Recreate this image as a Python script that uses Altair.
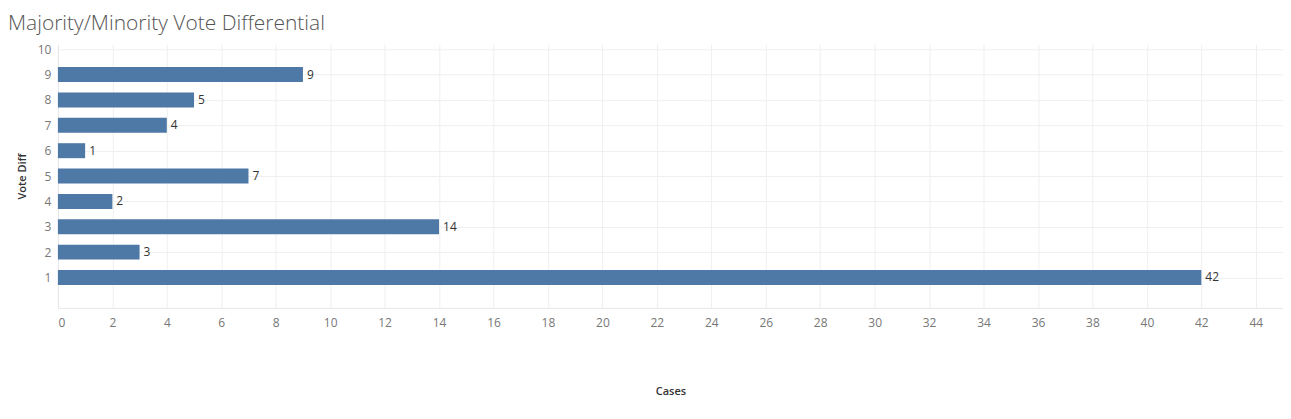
import altair as alt
import pandas as pd

vote_diff = [1, 2, 3, 4, 5, 6, 7, 8, 9]
cases = [42, 3, 14, 2, 7, 1, 4, 5, 9]
x_ticks = list(range(0, 46, 2))
y_ticks = list(range(1, 11))

df = pd.DataFrame({"Vote Diff": vote_diff, "Cases": cases})

FONT = "Open Sans"
GRID = "#efefef"

base = alt.Chart(df)

bars = base.mark_bar(orient="horizontal", size=15, color="#4e79a7").encode(
    x=alt.X(
        "Cases:Q",
        scale=alt.Scale(domain=[0, 45], nice=False),
        axis=alt.Axis(
            values=x_ticks,
            tickCount=30,
            format="d",
            title="Cases",
            labelPadding=10,
            labelFlush=True,
            titlePadding=57,
        ),
    ),
    y=alt.Y(
        "Vote Diff:Q",
        scale=alt.Scale(domain=[0, 10], nice=False),
        axis=alt.Axis(
            values=y_ticks,
            tickCount=20,
            format="d",
            title="Vote Diff",
            labelPadding=7,
            labelFlush=True,
            titlePadding=10,
        ),
    ),
)

labels = base.mark_text(
    align="left", baseline="middle", dx=4, fontSize=12, font=FONT, color="#333333"
).encode(
    x="Cases:Q",
    y="Vote Diff:Q",
    text="Cases:Q",
)

chart = (
    (bars + labels)
    .properties(
        width=1227,
        height=264,
        autosize=alt.AutoSizeParams(type="none"),
        padding={"left": 50, "top": 36, "right": 0, "bottom": 100},
        title=alt.TitleParams(
            "Majority/Minority Vote Differential",
            anchor="start",
            frame="group",
            font=FONT,
            fontSize=21,
            fontWeight=300,
            color="#555555",
            dx=-50,
            dy=22,
            offset=14,
            baseline="alphabetic",
        ),
    )
    .configure_view(stroke=None)
    .configure_axis(
        grid=True,
        gridColor=GRID,
        domainColor="#e6e6e6",
        ticks=False,
        labelOverlap=False,
        labelFontSize=12,
        labelColor="#777777",
        labelFont=FONT,
        titleFont=FONT,
        titleFontSize=11,
        titleFontWeight=600,
        titleColor="#333333",
    )
)

chart.save("out.html", embed_options={"renderer": "svg", "actions": False})
